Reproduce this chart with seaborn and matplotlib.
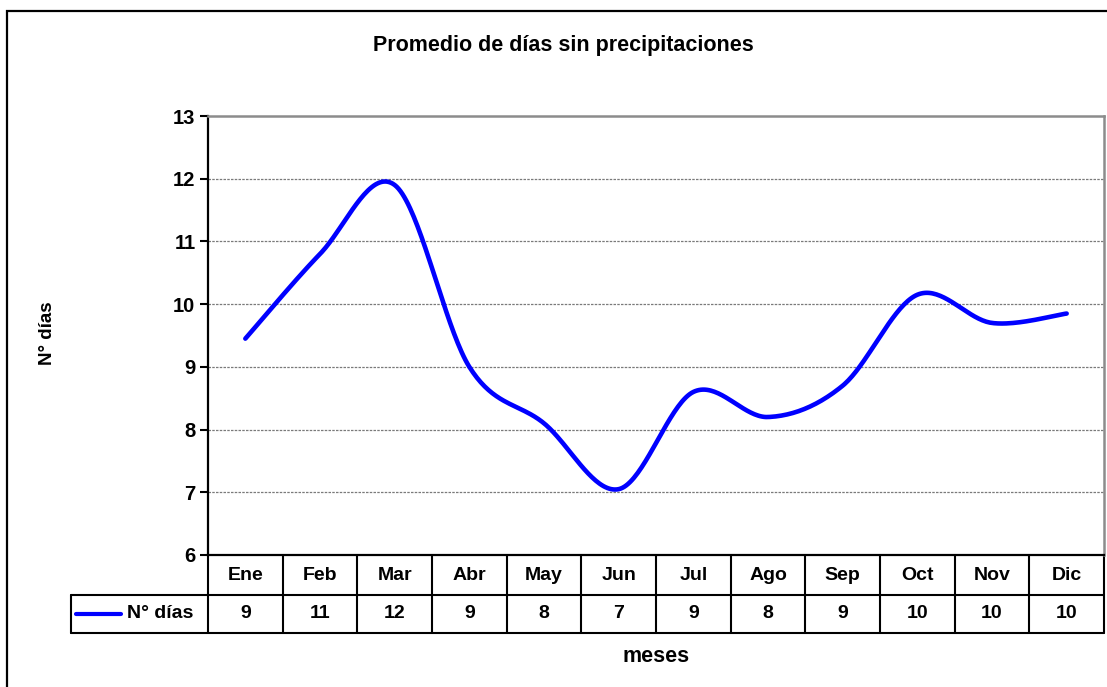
import numpy as np
import pandas as pd
import matplotlib
matplotlib.use("Agg")
import matplotlib.pyplot as plt
import matplotlib.transforms as mtransforms
from matplotlib.patches import Rectangle
from matplotlib.lines import Line2D
import seaborn as sns

# Monthly data
meses = ["Ene", "Feb", "Mar", "Abr", "May", "Jun", "Jul", "Ago", "Sep", "Oct", "Nov", "Dic"]
dias = [9.45, 10.8, 11.9, 9.0, 8.1, 7.05, 8.6, 8.2, 8.7, 10.15, 9.7, 9.85]
serie = "N° días"
titulo = "Promedio de días sin precipitaciones"
eje_x = "meses"
y_ticks = [6, 7, 8, 9, 10, 11, 12, 13]


def suavizar(x, y, n=40):
    """Smoothed line through every point using cubic Bezier segments."""
    pts = np.column_stack([x, y]).astype(float)
    ext = np.vstack([pts[0], pts, pts[-1]])
    t = np.linspace(0, 1, n)[:, None]
    out = []
    for i in range(len(pts) - 1):
        p0, p1 = ext[i + 1], ext[i + 2]
        c1 = p0 + (ext[i + 2] - ext[i]) / 6
        c2 = p1 - (ext[i + 3] - ext[i + 1]) / 6
        seg = (1 - t) ** 3 * p0 + 3 * (1 - t) ** 2 * t * c1 + 3 * (1 - t) * t ** 2 * c2 + t ** 3 * p1
        out.append(seg if i == 0 else seg[1:])
    arr = np.vstack(out)
    return arr[:, 0], arr[:, 1]


sns.set_theme(style="white")
plt.rcParams["font.family"] = ["Liberation Sans", "DejaVu Sans"]
plt.rcParams["font.weight"] = "bold"
plt.rcParams["text.color"] = "black"
plt.rcParams["ytick.labelcolor"] = "black"
plt.rcParams["ytick.color"] = "black"

W, H = 1107, 687
fig = plt.figure(figsize=(W / 100, H / 100), dpi=100)
fig.patch.set_facecolor("white")


def fy(py):
    return 1 - py / H


def fx(px):
    return px / W


ax = fig.add_axes([fx(208), fy(555), fx(1104) - fx(208), fy(116) - fy(555)])
ax.set_facecolor("white")

df = pd.DataFrame({"mes": np.arange(len(meses)), "valor": dias})
xs, ys = suavizar(df["mes"].values, df["valor"].values)
curva = pd.DataFrame({"x": xs, "y": ys})
sns.lineplot(data=curva, x="x", y="y", sort=False, estimator=None,
             color="#0000FF", linewidth=3.3, ax=ax, zorder=3)

ax.set_xlim(-0.5, len(meses) - 0.5)
ax.set_ylim(y_ticks[0], y_ticks[-1])
ax.set_yticks(y_ticks)
ax.set_yticklabels([str(v) for v in y_ticks], fontsize=14.5, fontweight="bold", color="black")
ax.set_xticks([])
ax.set_xlabel("")
ax.set_ylabel("")
ax.tick_params(axis="y", direction="out", length=6, width=1.5, color="black",
               pad=3, left=True)

for v in y_ticks[1:-1]:
    ax.axhline(v, color="#7a7a7a", linewidth=0.9, linestyle=(0, (2, 1)), zorder=1)

for side in ["top", "right"]:
    ax.spines[side].set_color("#8c8c8c")
    ax.spines[side].set_linewidth(1.8)
for side in ["left", "bottom"]:
    ax.spines[side].set_color("black")
    ax.spines[side].set_linewidth(1.6)

# Data table below the plot: x in category units, y in figure fraction
tr = mtransforms.blended_transform_factory(ax.transData, fig.transFigure)
n = len(meses)
y0, y1, y2 = fy(555), fy(595), fy(633)
px_per_cat = (1104 - 208) / n
x_leg = -0.5 - (208 - 70.7) / px_per_cat

lw_tab = 1.5
for k in range(n + 1):
    ax.add_line(Line2D([k - 0.5, k - 0.5], [y0, y2], transform=tr, color="black",
                       lw=lw_tab, clip_on=False))
ax.add_line(Line2D([x_leg, n - 0.5], [y1, y1], transform=tr, color="black", lw=lw_tab, clip_on=False))
ax.add_line(Line2D([x_leg, n - 0.5], [y2, y2], transform=tr, color="black", lw=lw_tab, clip_on=False))
ax.add_line(Line2D([x_leg, x_leg], [y1, y2], transform=tr, color="black", lw=lw_tab, clip_on=False))

for k, (m, v) in enumerate(zip(meses, dias)):
    ax.text(k, (y0 + y1) / 2, m, transform=tr, ha="center", va="center",
            fontsize=14, fontweight="bold", color="black", clip_on=False)
    ax.text(k, (y1 + y2) / 2, f"{v:.0f}", transform=tr, ha="center", va="center",
            fontsize=14, fontweight="bold", color="black", clip_on=False)

# Legend key inside the table
lx0 = -0.5 - (208 - 76) / px_per_cat
lx1 = -0.5 - (208 - 121) / px_per_cat
ax.add_line(Line2D([lx0, lx1], [fy(614), fy(614)], transform=tr, color="#0000FF",
                   lw=3.0, clip_on=False))
ax.text(-0.5 - (208 - 127) / px_per_cat, (y1 + y2) / 2, serie, transform=tr,
        ha="left", va="center", fontsize=14, fontweight="bold", color="black", clip_on=False)

# Titles
fig.text(fx(563), fy(45), titulo, ha="center", va="center", fontsize=15.5,
         fontweight="bold", color="black")
fig.text(fx(656), fy(662), eje_x, ha="center", va="baseline", fontsize=15.5,
         fontweight="bold", color="black")
fig.text(fx(47), fy(333), serie, ha="center", va="center", rotation=90,
         fontsize=13.5, fontweight="bold", color="black")

# Chart frame
fig.patches.append(Rectangle((fx(7), -0.05), 1.1, fy(11) + 0.05, transform=fig.transFigure,
                             fill=False, edgecolor="black", linewidth=1.6))

fig.savefig("out.png", dpi=100, facecolor="white")
